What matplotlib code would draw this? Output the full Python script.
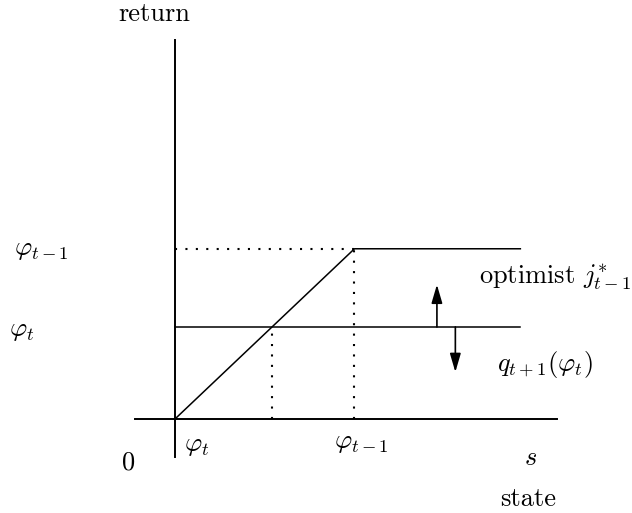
import matplotlib.pyplot as plt

plt.rcParams["mathtext.fontset"] = "cm"
plt.rcParams["font.family"] = "serif"
plt.rcParams["font.serif"] = ["cmr10"]

# =========================
# DATA
# =========================
PHI_T = 1.0          # current threshold
PHI_PREV = 1.85      # previous threshold
S_MAX = 3.56         # right end of the return lines

# optimist return j*_{t-1}: rises with the state, then flat at phi_{t-1}
optimist_s = [0.0, PHI_PREV, S_MAX]
optimist_r = [0.0, PHI_PREV, PHI_PREV]

# flat return q_{t+1}(phi_t)
flat_s = [0.0, S_MAX]
flat_r = [PHI_T, PHI_T]

# shift arrows: (state, start, end)
arrow_up = (2.70, PHI_T, 1.46)
arrow_down = (2.89, PHI_T, 0.51)

FS = 19

fig = plt.figure(figsize=(6.32, 5.13), dpi=100)
ax = fig.add_axes([0, 0, 1, 1])
ax.set_xlim(-1.804, 4.711)
ax.set_ylim(-1.022, 4.554)
ax.axis("off")

# axes
ax.plot([-0.41, 3.94], [0, 0], color="black", lw=1.4)
ax.plot([0, 0], [-0.41, 4.12], color="black", lw=1.4)

# return curves
ax.plot(optimist_s, optimist_r, color="black", lw=1.1)
ax.plot(flat_s, flat_r, color="black", lw=1.1)

# dotted guides
dots = dict(color="black", lw=1.5, linestyle=(0, (1, 4)))
ax.plot([0, PHI_PREV], [PHI_PREV, PHI_PREV], **dots)
ax.plot([PHI_PREV, PHI_PREV], [0, PHI_PREV], **dots)
ax.plot([PHI_T, PHI_T], [0, PHI_T], **dots)

# arrows
for s, r0, r1 in (arrow_up, arrow_down):
    ax.annotate("", xy=(s, r1), xytext=(s, r0),
                arrowprops=dict(arrowstyle="-|>,head_length=0.75,head_width=0.22",
                                color="black", lw=1.2,
                                mutation_scale=15, shrinkA=0, shrinkB=0))

# labels
ax.text(-0.21, 4.40, "return", fontsize=FS, ha="center", va="center")
ax.text(-1.38, 1.84, r"$\varphi_{t-1}$", fontsize=FS, ha="center", va="center")
ax.text(-1.58, 0.95, r"$\varphi_t$", fontsize=FS, ha="center", va="center")
ax.text(-0.48, -0.47, r"$0$", fontsize=FS, ha="center", va="center")
ax.text(0.22, -0.30, r"$\varphi_t$", fontsize=FS, ha="center", va="center")
ax.text(1.92, -0.26, r"$\varphi_{t-1}$", fontsize=FS, ha="center", va="center")
ax.text(3.66, -0.43, r"$s$", fontsize=FS, ha="center", va="center")
ax.text(3.64, -0.87, "state", fontsize=FS, ha="center", va="center")
ax.text(3.92, 1.54, r"optimist $j^{*}_{t-1}$", fontsize=FS, ha="center", va="center")
ax.text(3.81, 0.59, r"$q_{t+1}(\varphi_t)$", fontsize=FS, ha="center", va="center")

fig.savefig("out.png", dpi=100)
